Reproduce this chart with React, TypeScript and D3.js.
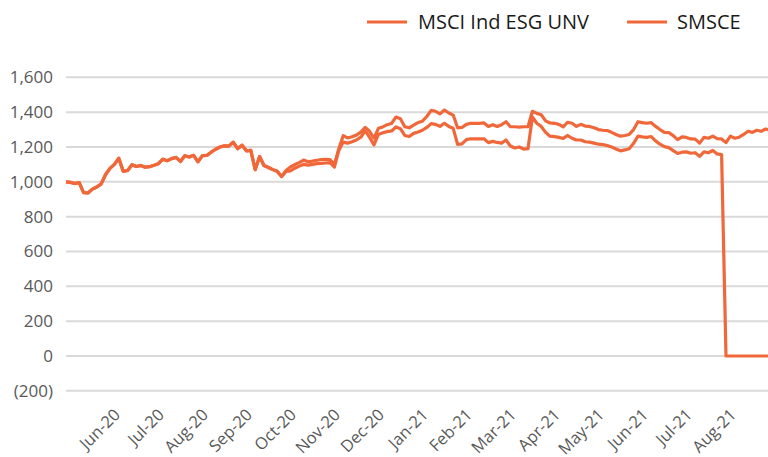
import React, { useEffect, useRef } from "react";
import * as d3 from "d3";

// series names as in the legend
const seriesNames = ["MSCI Ind ESG UNV", "SMSCE"];

// month labels on the category axis (one every 10 samples, starting at sample 11)
const monthLabels = [
  "Jun-20", "Jul-20", "Aug-20", "Sep-20", "Oct-20", "Nov-20", "Dec-20", "Jan-21",
  "Feb-21", "Mar-21", "Apr-21", "May-21", "Jun-21", "Jul-21", "Aug-21",
];

const yTicks = [-200, 0, 200, 400, 600, 800, 1000, 1200, 1400, 1600];

// both series run together until early October 2020
const sharedStart = [
  1000, 997, 990, 995, 938, 936, 958, 970, 988, 1042,
  1077, 1100, 1135, 1060, 1065, 1098, 1088, 1094, 1084, 1087,
  1095, 1104, 1130, 1121, 1133, 1140, 1117, 1150, 1142, 1152,
  1115, 1150, 1152, 1170, 1187, 1200, 1206, 1205, 1228, 1190,
  1210, 1178, 1180, 1070, 1145, 1094, 1082, 1070, 1060, 1030,
];

const msciTail = [
  1065, 1085, 1099, 1110, 1125, 1115, 1119, 1124, 1128, 1129,
  1127, 1100, 1190, 1265, 1252, 1259, 1268, 1285, 1312, 1290,
  1250, 1307, 1315, 1328, 1335, 1372, 1362, 1316, 1310, 1326,
  1340, 1348, 1375, 1410, 1405, 1390, 1412, 1395, 1383, 1310,
  1312, 1330, 1336, 1336, 1336, 1338, 1318, 1328, 1318, 1328,
  1345, 1316, 1316, 1314, 1316, 1316, 1405, 1393, 1385, 1350,
  1338, 1336, 1330, 1316, 1342, 1336, 1318, 1330, 1320, 1318,
  1310, 1300, 1296, 1294, 1284, 1272, 1262, 1266, 1272, 1300,
  1345, 1340, 1336, 1340, 1318, 1300, 1284, 1282, 1265, 1242,
  1258, 1255, 1246, 1245, 1222, 1255, 1250, 1262, 1248, 1246,
  1225, 1262, 1250, 1256, 1272, 1290, 1284, 1296, 1290, 1303, 1296,
];

const smsceTail = [
  1060, 1062, 1078, 1090, 1100, 1096, 1100, 1104, 1106, 1108,
  1110, 1085, 1180, 1228, 1222, 1230, 1240, 1256, 1292, 1255,
  1212, 1272, 1282, 1288, 1292, 1315, 1305, 1266, 1260, 1278,
  1286, 1296, 1312, 1334, 1330, 1318, 1336, 1318, 1307, 1215,
  1218, 1242, 1247, 1246, 1247, 1247, 1225, 1232, 1226, 1222,
  1240, 1206, 1194, 1200, 1188, 1190, 1372, 1336, 1318, 1284,
  1262, 1259, 1255, 1249, 1266, 1250, 1240, 1240, 1230, 1228,
  1222, 1216, 1214, 1208, 1200, 1188, 1178, 1183, 1190, 1221,
  1262, 1258, 1255, 1260, 1235, 1216, 1202, 1196, 1179, 1163,
  1170, 1172, 1164, 1167, 1146, 1172, 1167, 1180, 1160, 1156,
  0, 0, 0, 0, 0, 0, 0, 0, 0, 0, 0,
];

const msciValues = sharedStart.concat(msciTail);
const smsceValues = sharedStart.concat(smsceTail);

export default function App() {
  const ref = useRef<SVGSVGElement>(null);

  useEffect(() => {
    const svg = d3.select(ref.current);
    svg.selectAll("*").remove();

    const w = 768, h = 457;
    const color = "#F0683A";
    const font = "'Open Sans', 'Noto Sans', sans-serif";

    const x = d3.scaleLinear().domain([0, msciValues.length - 1]).range([66, 770]);
    const y = d3.scaleLinear().domain([0, 1600]).range([356, 77.3]);

    svg.attr("width", w).attr("height", h);

    // gridlines
    svg.append("g")
      .selectAll("line")
      .data(yTicks)
      .enter()
      .append("line")
      .attr("x1", 66)
      .attr("x2", w)
      .attr("y1", (d) => y(d))
      .attr("y2", (d) => y(d))
      .attr("stroke", "#D9D9D9")
      .attr("stroke-width", 2);

    // y labels
    const fmt = d3.format(",");
    svg.append("g")
      .selectAll("text")
      .data(yTicks)
      .enter()
      .append("text")
      .attr("x", 53)
      .attr("y", (d) => y(d))
      .attr("dy", "0.35em")
      .attr("text-anchor", "end")
      .attr("font-family", font)
      .attr("font-size", 17)
      .attr("fill", "#595959")
      .text((d) => (d < 0 ? `(${fmt(-d)})` : fmt(d)));

    // x labels
    svg.append("g")
      .selectAll("text")
      .data(monthLabels)
      .enter()
      .append("text")
      .attr("transform", (d, i) => `translate(${x(11 + i * 10) - 2},407) rotate(-45)`)
      .attr("dy", "0.75em")
      .attr("text-anchor", "end")
      .attr("font-family", font)
      .attr("font-size", 16.5)
      .attr("fill", "#595959")
      .text((d) => d);

    // lines
    const line = d3.line<number>()
      .x((d, i) => x(i))
      .y((d) => y(d));

    [smsceValues, msciValues].forEach((vals) => {
      svg.append("path")
        .datum(vals)
        .attr("d", line)
        .attr("fill", "none")
        .attr("stroke", color)
        .attr("stroke-width", 3.2)
        .attr("stroke-linejoin", "round");
    });

    // legend
    const legend = [
      { name: seriesNames[0], x1: 367, x2: 407, tx: 418 },
      { name: seriesNames[1], x1: 627, x2: 667, tx: 677 },
    ];
    const lg = svg.append("g");
    legend.forEach((l) => {
      lg.append("line")
        .attr("x1", l.x1)
        .attr("x2", l.x2)
        .attr("y1", 22)
        .attr("y2", 22)
        .attr("stroke", color)
        .attr("stroke-width", 3.2);
      lg.append("text")
        .attr("x", l.tx)
        .attr("y", 22)
        .attr("dy", "0.36em")
        .attr("font-family", font)
        .attr("font-size", 20)
        .attr("fill", "#1A1A1A")
        .text(l.name);
    });
  }, []);

  return (
    <svg ref={ref} style={{ position: "absolute", left: 0, top: 0, background: "#fff" }}></svg>
  );
}
